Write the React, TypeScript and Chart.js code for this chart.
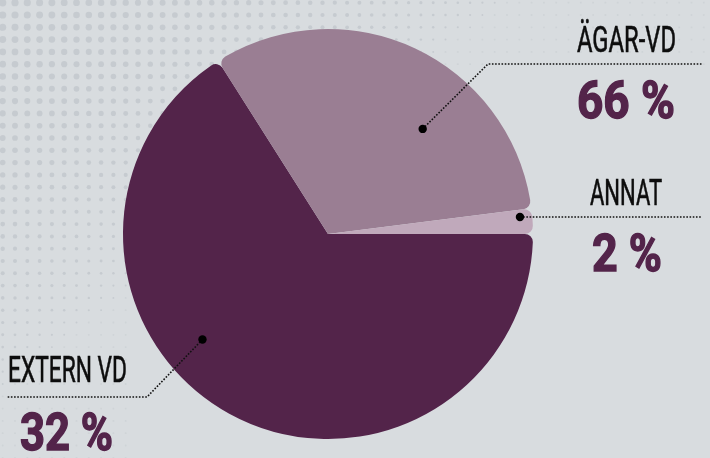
import React, { useEffect, useRef } from "react";
import { Chart, registerables } from "chart.js";

Chart.register(...registerables);

// Data (slice geometry, clockwise from 3 o'clock)
const sliceKeys = ["extern", "agare", "annat"];
const sliceValues = [66, 32, 2];
const sliceColors = ["#53244a", "#9a7e93", "#c0a9bb"];

// Annotation texts (as printed on the graphic)
const labelTexts = ["EXTERN VD", "ÄGAR-VD", "ANNAT"];
const percentTexts = ["32 %", "66 %", "2 %"];

// Layout of the annotations (angle fraction within slice, radius fraction, text boxes)
const anchorFrac = [
  { f: 0.589, r: 0.8 },
  { f: 0.646, r: 0.69 },
  { f: 0.3, r: 0.94 },
];
const labelLayout = [
  { elbow: [147, 397], end: [7, 397], lx: 8, lw: 119, ly: 382, px: 20, pw: 93, py: 450 },
  { elbow: [488, 64], end: [702, 64], lx: 577, lw: 99, ly: 52, px: 577, pw: 98, py: 118 },
  { elbow: null, end: [702, 217], lx: 590, lw: 72, ly: 205, px: 592, pw: 70, py: 271 },
];

const BG = "#d8dcdf";

const backgroundPlugin = {
  id: "bgDots",
  beforeDraw(chart: any) {
    const ctx = chart.ctx;
    const w = chart.width;
    const h = chart.height;
    ctx.save();
    ctx.fillStyle = BG;
    ctx.fillRect(0, 0, w, h);
    ctx.fillStyle = "#c6cbd0";
    const step = 12.3;
    for (let y = 2.7; y < h; y += step) {
      for (let x = 2.7; x < w; x += step) {
        const t = x / 560 + y / 430;
        let r: number;
        if (t < 1) r = 3.7 * Math.pow(1 - t, 0.6);
        else r = 0;
        if (r < 0.9) {
          if (y < 70 || x < 130) {
            ctx.globalAlpha = 0.5;
            ctx.beginPath();
            ctx.arc(x, y, 0.9, 0, Math.PI * 2);
            ctx.fill();
            ctx.globalAlpha = 1;
          }
          continue;
        }
        ctx.beginPath();
        ctx.arc(x, y, r, 0, Math.PI * 2);
        ctx.fill();
      }
    }
    ctx.restore();
  },
};

const annotationPlugin = {
  id: "annotations",
  afterDraw(chart: any) {
    const ctx = chart.ctx;
    const meta = chart.getDatasetMeta(0);
    ctx.save();
    meta.data.forEach((arc: any, i: number) => {
      const p = arc.getProps(["x", "y", "startAngle", "endAngle", "outerRadius"], true);
      const a = p.startAngle + anchorFrac[i].f * (p.endAngle - p.startAngle);
      const rr = anchorFrac[i].r * p.outerRadius;
      const ax = p.x + Math.cos(a) * rr;
      const ay = p.y + Math.sin(a) * rr;
      const L = labelLayout[i];

      // dotted leader
      ctx.strokeStyle = "#111";
      ctx.lineWidth = 1.6;
      ctx.setLineDash([1.6, 1.6]);
      ctx.beginPath();
      ctx.moveTo(ax, ay);
      if (L.elbow) ctx.lineTo(L.elbow[0], L.elbow[1]);
      ctx.lineTo(L.end[0], L.end[1]);
      ctx.stroke();
      ctx.setLineDash([]);

      // anchor dot
      ctx.fillStyle = "#000";
      ctx.beginPath();
      ctx.arc(ax, ay, 4.2, 0, Math.PI * 2);
      ctx.fill();

      // label text (condensed)
      ctx.textBaseline = "alphabetic";
      ctx.textAlign = "left";
      ctx.fillStyle = "#0d0d0d";
      ctx.strokeStyle = "#0d0d0d";
      ctx.lineWidth = 0.6;
      ctx.font = "36px Roboto, 'DejaVu Sans', sans-serif";
      ctx.fillText(labelTexts[i], L.lx, L.ly, L.lw);
      ctx.strokeText(labelTexts[i], L.lx, L.ly, L.lw);

      // percent text
      ctx.fillStyle = "#53244a";
      ctx.strokeStyle = "#53244a";
      ctx.lineWidth = 1.4;
      ctx.font = "bold 51px Roboto, 'DejaVu Sans', sans-serif";
      ctx.fillText(percentTexts[i], L.px, L.py, L.pw);
      ctx.strokeText(percentTexts[i], L.px, L.py, L.pw);
    });
    ctx.restore();
  },
};

export default function App() {
  const ref = useRef<HTMLCanvasElement | null>(null);

  useEffect(() => {
    document.body.style.margin = "0";
    const canvas = ref.current;
    if (!canvas) return;
    const chart = new Chart(canvas, {
      type: "pie",
      data: {
        labels: sliceKeys,
        datasets: [
          {
            data: sliceValues,
            backgroundColor: sliceColors,
            borderWidth: 0,
            borderRadius: 8,
          },
        ],
      },
      options: {
        responsive: false,
        animation: false,
        rotation: 90,
        layout: { padding: { left: 123, right: 177, top: 29, bottom: 19 } },
        plugins: {
          legend: { display: false },
          tooltip: { enabled: false },
        },
      },
      plugins: [backgroundPlugin, annotationPlugin],
    });
    return () => chart.destroy();
  }, []);

  return (
    <div style={{ position: "absolute", left: 0, top: 0, width: 710, height: 458 }}>
      <canvas ref={ref} width={710} height={458} style={{ display: "block" }} />
    </div>
  );
}
